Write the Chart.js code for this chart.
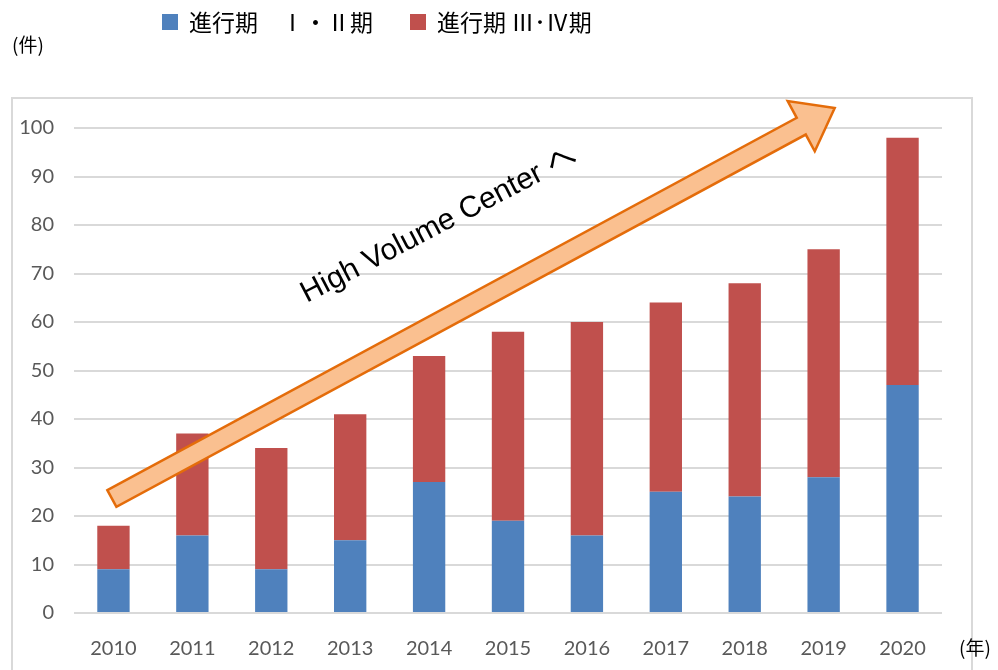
<!DOCTYPE html>
<html>
<head>
<meta charset="utf-8">
<script src="https://cdn.jsdelivr.net/npm/chart.js@4.4.1/dist/chart.umd.min.js"></script>
<style>
  html, body { margin: 0; padding: 0; background: #fff; }
  #wrap { width: 998px; height: 670px; position: relative; }
</style>
</head>
<body>
<div id="wrap"><canvas id="graphique"></canvas></div>
<script>
// donnees
const annees = ["2010", "2011", "2012", "2013", "2014", "2015", "2016", "2017", "2018", "2019", "2020"];
const stade12 = [9, 16, 9, 15, 27, 19, 16, 25, 24, 28, 47];
const stade34 = [9, 21, 25, 26, 26, 39, 44, 39, 44, 47, 51];
const nomsSeries = ["進行期　Ⅰ・Ⅱ期", "進行期 Ⅲ･Ⅳ期"];
const couleurs = ["#4F81BD", "#C0504D"];
const texteFleche = "High Volume Center へ";

// fleche : debut et fin en coordonnees du graphique (index categorie, valeur)
const flecheDebut = [-0.02, 23.6];
const flecheFin = [9.14, 104.1];

const cadrePlugin = {
    id: "cadre",
    beforeDraw(chart) {
        const ctx = chart.ctx;
        ctx.save();
        ctx.fillStyle = "#fff";
        ctx.fillRect(0, 0, chart.width, chart.height);
        ctx.strokeStyle = "#d9d9d9";
        ctx.lineWidth = 2;
        ctx.strokeRect(12, 98, 960, 620);
        ctx.restore();
    },
    afterDraw(chart) {
        const ctx = chart.ctx;
        ctx.save();
        // legende
        ctx.font = "23px 'Noto Sans CJK JP'";
        ctx.textBaseline = "middle";
        const posLegende = [162, 410];
        chart.data.datasets.forEach((ds, i) => {
            const x = posLegende[i];
            ctx.fillStyle = ds.backgroundColor;
            ctx.fillRect(x, 14, 16, 16);
            ctx.fillStyle = "#000";
            ctx.fillText(ds.label, x + 27, 22);
        });
        // unites
        ctx.font = "19px 'Noto Sans CJK JP'";
        ctx.fillText("(件)", 12, 45);
        ctx.fillText("(年)", 959, 648);

        // fleche
        const sx = chart.scales.x, sy = chart.scales.y;
        const x0 = sx.getPixelForValue(flecheDebut[0]), y0 = sy.getPixelForValue(flecheDebut[1]);
        const x1 = sx.getPixelForValue(flecheFin[0]), y1 = sy.getPixelForValue(flecheFin[1]);
        const ang = Math.atan2(y1 - y0, x1 - x0);
        const longueur = Math.hypot(x1 - x0, y1 - y0);
        const demiCorps = 9.5, demiTete = 28.5, teteLong = 38;
        ctx.translate(x0, y0);
        ctx.rotate(ang);
        ctx.beginPath();
        ctx.moveTo(0, -demiCorps);
        ctx.lineTo(longueur - teteLong, -demiCorps);
        ctx.lineTo(longueur - teteLong, -demiTete);
        ctx.lineTo(longueur, 0);
        ctx.lineTo(longueur - teteLong, demiTete);
        ctx.lineTo(longueur - teteLong, demiCorps);
        ctx.lineTo(0, demiCorps);
        ctx.closePath();
        ctx.fillStyle = "#FAC090";
        ctx.fill();
        ctx.strokeStyle = "#E46C0A";
        ctx.lineWidth = 2.5;
        ctx.lineJoin = "miter";
        ctx.stroke();
        ctx.restore();

        // texte le long de la fleche
        ctx.save();
        const tx = sx.getPixelForValue(2.45), ty = sy.getPixelForValue(63.9);
        ctx.translate(tx, ty);
        ctx.rotate(-27.5 * Math.PI / 180);
        ctx.font = "30px 'Liberation Sans', 'Noto Sans CJK JP'";
        ctx.fillStyle = "#000";
        ctx.textBaseline = "alphabetic";
        ctx.fillText(texteFleche, 0, 0);
        ctx.restore();
    }
};

new Chart(document.getElementById("graphique"), {
    type: "bar",
    data: {
        labels: annees,
        datasets: [
            { label: nomsSeries[0], data: stade12, backgroundColor: couleurs[0], barPercentage: 0.5, categoryPercentage: 0.82 },
            { label: nomsSeries[1], data: stade34, backgroundColor: couleurs[1], barPercentage: 0.5, categoryPercentage: 0.82 }
        ]
    },
    options: {
        responsive: true,
        maintainAspectRatio: false,
        animation: false,
        layout: { padding: { top: 128, right: 56, bottom: 0, left: 0 } },
        plugins: {
            legend: { display: false },
            tooltip: { enabled: false }
        },
        scales: {
            x: {
                stacked: true,
                grid: { display: false },
                border: { display: false },
                ticks: { color: "#595959", font: { family: "Lato", size: 20 }, padding: 16 },
                afterFit(scale) { scale.height = 57; }
            },
            y: {
                stacked: true,
                min: 0,
                max: 100,
                ticks: { stepSize: 10, color: "#595959", font: { family: "Lato", size: 20 }, padding: 20 },
                grid: { color: "#d9d9d9", lineWidth: 2, drawTicks: false },
                border: { display: false },
                afterFit(scale) { scale.width = 74; }
            }
        }
    },
    plugins: [cadrePlugin]
});
</script>
</body>
</html>
